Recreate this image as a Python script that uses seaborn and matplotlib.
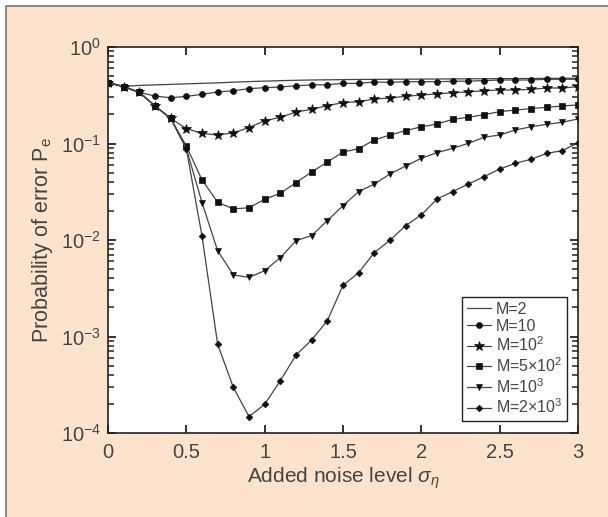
import numpy as np
import pandas as pd
import seaborn as sns
import matplotlib.pyplot as plt
from matplotlib.patches import Rectangle
from matplotlib.lines import Line2D
from matplotlib.ticker import LogLocator, MultipleLocator, NullFormatter

# noise level sigma_eta, 0 to 3 in steps of 0.1
sigma = [0.0, 0.1, 0.2, 0.3, 0.4, 0.5, 0.6, 0.7, 0.8, 0.9, 1.0,
         1.1, 1.2, 1.3, 1.4, 1.5, 1.6, 1.7, 1.8, 1.9, 2.0,
         2.1, 2.2, 2.3, 2.4, 2.5, 2.6, 2.7, 2.8, 2.9, 3.0]

pe_m2 = [0.43, 0.39, 0.40, 0.405, 0.41, 0.415, 0.42, 0.425, 0.432, 0.438, 0.443,
         0.448, 0.452, 0.455, 0.457, 0.459, 0.461, 0.462, 0.463, 0.464, 0.465,
         0.466, 0.467, 0.468, 0.469, 0.470, 0.471, 0.472, 0.473, 0.474, 0.475]
pe_m10 = [0.427, 0.388, 0.339, 0.31, 0.298, 0.308, 0.323, 0.342, 0.352, 0.37, 0.379,
          0.385, 0.397, 0.404, 0.407, 0.42, 0.42, 0.434, 0.43, 0.437, 0.437,
          0.437, 0.441, 0.443, 0.448, 0.455, 0.455, 0.455, 0.463, 0.463, 0.463]
pe_m100 = [0.427, 0.388, 0.339, 0.245, 0.182, 0.143, 0.127, 0.1225, 0.129, 0.146, 0.172,
           0.187, 0.212, 0.226, 0.247, 0.265, 0.271, 0.289, 0.296, 0.308, 0.318,
           0.326, 0.336, 0.342, 0.352, 0.358, 0.358, 0.364, 0.376, 0.376, 0.388]
pe_m500 = [0.427, 0.388, 0.339, 0.245, 0.182, 0.094, 0.042, 0.0246, 0.021, 0.0216, 0.0264,
           0.0305, 0.0393, 0.0507, 0.0643, 0.0816, 0.0883, 0.1087, 0.1225, 0.136, 0.149,
           0.159, 0.178, 0.187, 0.199, 0.214, 0.222, 0.23, 0.237, 0.245, 0.251]
pe_m1000 = [0.427, 0.388, 0.339, 0.245, 0.182, 0.089, 0.0244, 0.00774, 0.00434, 0.0041, 0.00481,
            0.00656, 0.00984, 0.0111, 0.0159, 0.0227, 0.0317, 0.038, 0.0483, 0.0585, 0.0703,
            0.0804, 0.089, 0.1004, 0.116, 0.1225, 0.138, 0.149, 0.158, 0.166, 0.1795]
pe_m2000 = [0.427, 0.388, 0.339, 0.245, 0.182, 0.088, 0.011, 0.00083, 0.000297, 0.000148, 0.000198,
            0.000348, 0.000643, 0.00092, 0.00146, 0.00339, 0.00458, 0.0074, 0.00993, 0.0141, 0.0182,
            0.0266, 0.0317, 0.038, 0.0453, 0.0544, 0.0623, 0.0686, 0.079, 0.0843, 0.102]

labels = ["M=2", "M=10", r"M=10$^2$", r"M=5$\times$10$^2$", r"M=10$^3$", r"M=2$\times$10$^3$"]
series = [pe_m2, pe_m10, pe_m100, pe_m500, pe_m1000, pe_m2000]
markers = [None, "o", "*", "s", "v", "D"]
msizes = [0, 4.3, 7, 4.2, 4.8, 3.4]

sns.set_style("ticks")
plt.rcParams["font.family"] = ["Liberation Sans", "DejaVu Sans"]
plt.rcParams["mathtext.fontset"] = "custom"
plt.rcParams["mathtext.rm"] = "Liberation Sans"
plt.rcParams["mathtext.it"] = "Liberation Sans:italic"
plt.rcParams["mathtext.default"] = "regular"

peach = "#FDE3CC"
fig = plt.figure(figsize=(6.08, 5.17), dpi=100, facecolor="white")
fig.patches.append(Rectangle((5 / 608, 0), 1, 1 - 5 / 517, transform=fig.transFigure,
                             facecolor=peach, edgecolor="none", zorder=-10))
# frame only on the top and left, like the cropped original
fig.lines.append(Line2D([5.5 / 608, 5.5 / 608, 1], [0, 1 - 5.5 / 517, 1 - 5.5 / 517],
                        transform=fig.transFigure, color="#777777", linewidth=1.2))
ax = fig.add_axes([108 / 608, 1 - 433 / 517, 470 / 608, 386 / 517])
ax.set_facecolor("white")

for lab, vals, mk, ms in zip(labels, series, markers, msizes):
    df = pd.DataFrame({"sigma": sigma, "pe": vals})
    sns.lineplot(data=df, x="sigma", y="pe", ax=ax, label=lab, color="#444444",
                 linewidth=0.9, marker=mk, markersize=ms, markerfacecolor="#111111",
                 markeredgecolor="#111111", markeredgewidth=0.5)

ax.set_yscale("log")
ax.set_xlim(0, 3)
ax.set_ylim(1e-4, 1)
ax.xaxis.set_major_locator(MultipleLocator(0.5))
ax.yaxis.set_major_locator(LogLocator(base=10, numticks=10))
ax.yaxis.set_minor_locator(LogLocator(base=10, subs=np.arange(2, 10), numticks=20))
ax.yaxis.set_minor_formatter(NullFormatter())
ax.set_xticks([0, 0.5, 1, 1.5, 2, 2.5, 3], ["0", "0.5", "1", "1.5", "2", "2.5", "3"])
ax.tick_params(which="major", direction="in", length=6, width=1.3, top=True, right=True,
               labelsize=14.5, colors="#222222", labelcolor="#444444", pad=5)
ax.tick_params(axis="x", which="major", pad=7)
ax.tick_params(which="minor", direction="in", length=4, width=1.1, right=True, colors="#222222")
for sp in ax.spines.values():
    sp.set_linewidth(1.2)
    sp.set_color("#222222")

ax.set_xlabel(r"Added noise level $\mathit{\sigma_\eta}$", fontsize=15, color="#444444", labelpad=3)
ax.set_ylabel(r"Probability of error P$_e$", fontsize=15.5, color="#444444", labelpad=4)

leg = ax.legend(loc="lower right", bbox_to_anchor=(0.977, 0.031), fancybox=False, frameon=True,
                edgecolor="#222222", framealpha=1, fontsize=11.5, labelspacing=0.12,
                handlelength=1.5, handletextpad=0.3, borderpad=0.3, borderaxespad=0)
leg.get_frame().set_linewidth(1.0)
for t in leg.get_texts():
    t.set_color("#444444")

fig.savefig("out.png", dpi=100, facecolor=fig.get_facecolor())
